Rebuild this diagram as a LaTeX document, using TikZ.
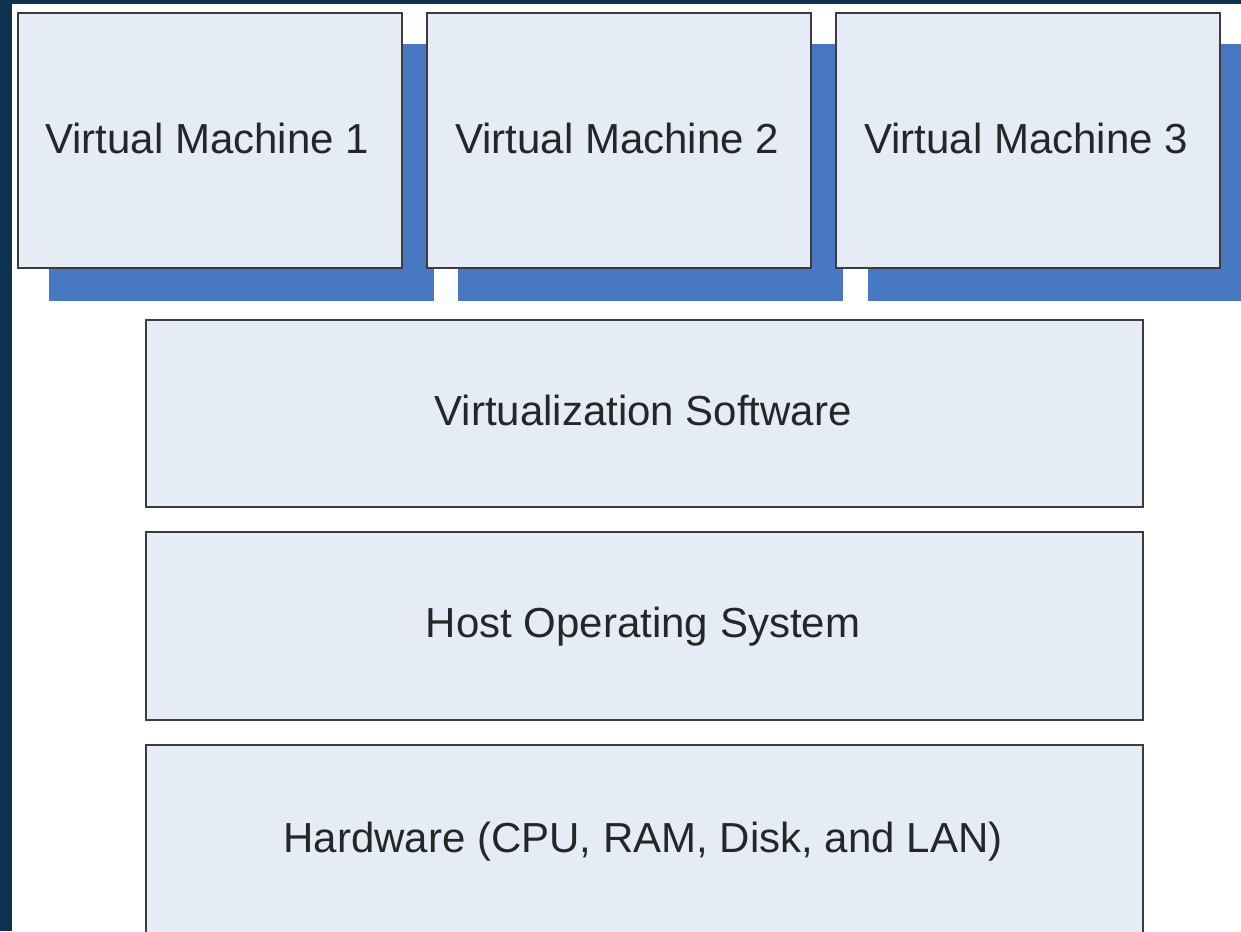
\documentclass[tikz,border=0pt]{standalone}
\usepackage{fontspec}
\setmainfont{Liberation Sans}
\definecolor{navy}{RGB}{13,51,80}
\definecolor{boxfill}{RGB}{230,236,246}
\definecolor{shadowblue}{RGB}{72,120,194}
\definecolor{edge}{RGB}{60,60,60}
\tikzset{
  layerbox/.style={draw=edge, line width=2pt, fill=boxfill},
  lbl/.style={font=\fontsize{42}{48}\selectfont, text=black!85, inner sep=0pt, anchor=base}
}
\begin{document}
\begin{tikzpicture}[x=1pt,y=-1pt]
\useasboundingbox (0,0) rectangle (1241,931);
\clip (0,0) rectangle (1241,931);
\fill[white] (0,0) rectangle (1241,931);
% navy frame
\fill[navy] (0,0) rectangle (12,931);
\fill[navy] (0,0) rectangle (1241,4);
% VM 1
\fill[shadowblue] (49,44) rectangle (434,301);
\draw[layerbox] (18,13) rectangle (402,268);
\node[lbl] (vm1) at (207,153) {Virtual Machine 1};
% VM 2
\fill[shadowblue] (458,44) rectangle (843,301);
\draw[layerbox] (427,13) rectangle (811,268);
\node[lbl] (vm2) at (617,153) {Virtual Machine 2};
% VM 3
\fill[shadowblue] (868,44) rectangle (1253,301);
\draw[layerbox] (836,13) rectangle (1220,268);
\node[lbl] (vm3) at (1026,153) {Virtual Machine 3};
% layers
\draw[layerbox] (146,320) rectangle (1143,507);
\node[lbl] (virt) at (643,425) {Virtualization Software};
\draw[layerbox] (146,532) rectangle (1143,720);
\node[lbl] (host) at (643,637) {Host Operating System};
\draw[layerbox] (146,745) rectangle (1143,945);
\node[lbl] (hw) at (643,852) {Hardware (CPU, RAM, Disk, and LAN)};
\end{tikzpicture}
\end{document}
